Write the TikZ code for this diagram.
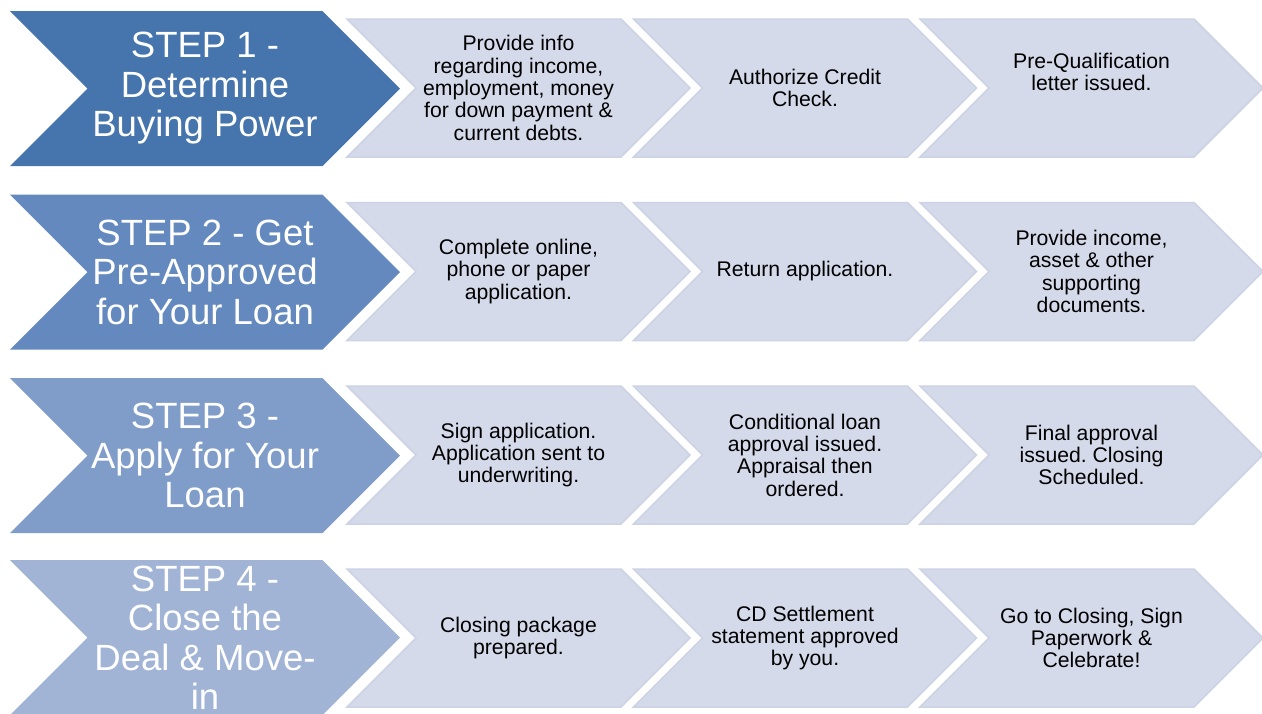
\documentclass[tikz,border=0pt]{standalone}
\usepackage{fontspec}
\setmainfont{Liberation Sans}
\frenchspacing
\usetikzlibrary{shapes.symbols}

\definecolor{stepone}{RGB}{70,116,172}
\definecolor{steptwo}{RGB}{100,137,190}
\definecolor{stepthree}{RGB}{128,157,201}
\definecolor{stepfour}{RGB}{161,180,213}
\definecolor{taskfill}{RGB}{212,218,234}
\definecolor{taskedge}{RGB}{204,211,229}

\begin{document}
\begin{tikzpicture}[
  x=1pt, y=-1pt,
  % --- styles ------------------------------------------------------------
  chevron/.style={
    shape=signal, signal from=west, signal to=east,
    signal pointer angle=90, inner sep=0pt, align=center
  },
  stepbox/.style={
    chevron, minimum width=390pt, minimum height=155pt,
    text=white, font=\fontsize{36.5}{39.5}\selectfont
  },
  taskbox/.style={
    chevron, minimum width=343pt, minimum height=138pt,
    fill=taskfill, draw=taskedge, line width=1.5pt,
    text=black, font=\fontsize{21.2}{22.3}\selectfont
  }
]
\useasboundingbox (0,0) rectangle (1262,713);

% --------------------- step 1 -------------------------------------------
\node[stepbox, fill=stepone] (s1) at (205,88.5) {STEP 1 -\\Determine\\Buying Power};
\node[taskbox] (t11) at (518.5,88) {Provide info\\regarding income,\\employment, money\\for down payment \&\\current debts.};
\node[taskbox] (t12) at (805,88) {Authorize Credit\\Check.};
\node[taskbox] (t13) at (1091.5,88) {Pre-Qualification\\letter issued.\\[10pt]\mbox{}};

% --------------------- step 2 -------------------------------------------
\node[stepbox, fill=steptwo] (s2) at (205,272) {STEP 2 - Get\\Pre-Approved\\for Your Loan};
\node[taskbox] (t21) at (518.5,271.5) {Complete online,\\phone or paper\\application.};
\node[taskbox] (t22) at (805,271.5) {Return application.};
\node[taskbox] (t23) at (1091.5,271.5) {Provide income,\\asset \& other\\supporting\\documents.};

% --------------------- step 3 -------------------------------------------
\node[stepbox, fill=stepthree] (s3) at (205,455.5) {STEP 3 -\\Apply for Your\\Loan};
\node[taskbox] (t31) at (518.5,455) {Sign application.\\Application sent to\\underwriting.};
\node[taskbox] (t32) at (805,455) {Conditional loan\\approval issued.\\Appraisal then\\ordered.};
\node[taskbox] (t33) at (1091.5,455) {Final approval\\issued. Closing\\Scheduled.};

% --------------------- step 4 -------------------------------------------
\node[stepbox, fill=stepfour] (s4) at (205,637.5) {STEP 4 -\\Close the\\Deal \& Move-\\in};
\node[taskbox] (t41) at (518.5,638) {Closing package\\prepared.};
\node[taskbox] (t42) at (805,638) {CD Settlement\\statement approved\\by you.};
\node[taskbox] (t43) at (1091.5,638) {Go to Closing, Sign\\Paperwork \&\\Celebrate!};

\end{tikzpicture}
\end{document}
